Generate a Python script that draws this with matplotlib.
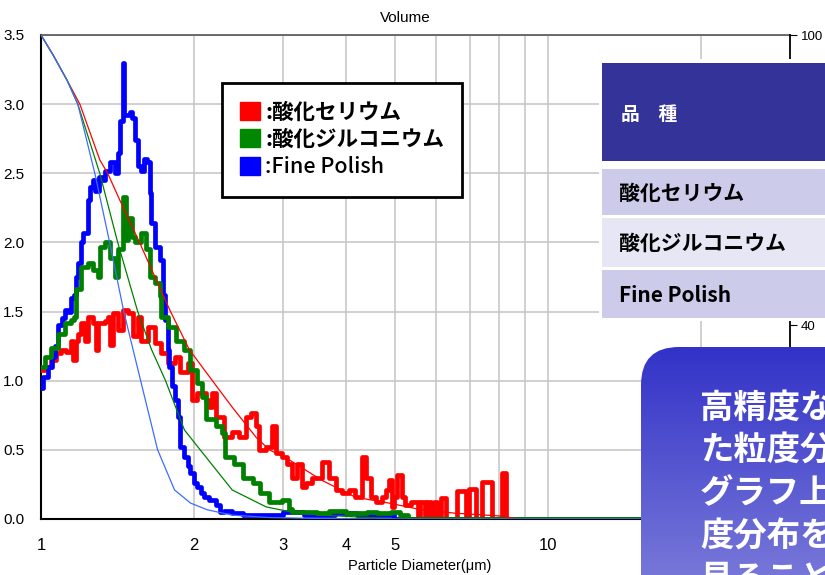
import numpy as np
import matplotlib
matplotlib.use("Agg")
import matplotlib.pyplot as plt
from matplotlib.patches import Patch, Rectangle, FancyBboxPatch

plt.rcParams['font.family'] = ['Liberation Sans', 'Noto Sans CJK JP', 'DejaVu Sans']

# histogram (volume %) - step edges in um and heights
red_x = [1.000, 1.018, 1.046, 1.070, 1.095, 1.120, 1.145, 1.156, 1.170, 1.182, 1.198, 1.220, 1.237,
         1.265, 1.282, 1.295, 1.336, 1.354, 1.366, 1.385, 1.417, 1.449, 1.482, 1.516, 1.551, 1.572,
         1.623, 1.675, 1.721, 1.777, 1.834, 1.884, 1.945, 1.988, 2.034, 2.118, 2.147, 2.177, 2.216,
         2.300, 2.383, 2.460, 2.538, 2.598, 2.655, 2.690, 2.780, 2.860, 2.910, 2.990, 3.060, 3.130,
         3.200, 3.270, 3.330, 3.420, 3.580, 3.700, 3.810, 3.920, 4.050, 4.170, 4.290, 4.380, 4.470,
         4.570, 4.700, 4.790, 4.850, 4.920, 4.970, 5.030, 5.140, 5.230, 5.370, 5.550, 5.600, 5.730,
         5.780, 5.880, 5.950, 6.050, 6.160, 6.300, 6.600, 6.900, 6.970, 7.200, 7.400, 7.750, 8.100,
         8.270, 30.0]
red_y = [1.08, 1.10, 1.15, 1.20, 1.22, 1.21, 1.29, 1.15, 1.29, 1.34, 1.42, 1.29, 1.46,
         1.42, 1.22, 1.42, 1.43, 1.46, 1.26, 1.49, 1.37, 1.51, 1.49, 1.32, 1.46, 1.29,
         1.39, 1.27, 1.20, 1.13, 1.17, 1.06, 1.13, 0.86, 0.91, 0.86, 0.81, 0.91, 0.74,
         0.59, 0.63, 0.59, 0.74, 0.77, 0.67, 0.50, 0.52, 0.67, 0.48, 0.45, 0.40, 0.30,
         0.40, 0.23, 0.26, 0.30, 0.41, 0.30, 0.21, 0.19, 0.21, 0.16, 0.45, 0.30, 0.16,
         0.12, 0.16, 0.21, 0.28, 0.09, 0.16, 0.32, 0.16, 0.10, 0.12, 0.00, 0.12, 0.00,
         0.12, 0.00, 0.12, 0.00, 0.15, 0.00, 0.20, 0.00, 0.22, 0.00, 0.27, 0.00, 0.33,
         0.00, 0.00]

green_x = [1.000, 1.018, 1.046, 1.080, 1.115, 1.145, 1.160, 1.172, 1.198, 1.237, 1.265, 1.295, 1.306,
           1.336, 1.366, 1.398, 1.417, 1.449, 1.469, 1.482, 1.510, 1.530, 1.572, 1.610, 1.638, 1.675,
           1.714, 1.721, 1.777, 1.850, 1.918, 1.971, 2.034, 2.080, 2.118, 2.216, 2.277, 2.310, 2.400,
           2.500, 2.620, 2.700, 2.820, 2.990, 3.090, 3.130, 3.500, 3.700, 4.000, 4.400, 4.600, 4.900,
           5.100, 5.300, 30.0]
green_y = [1.10, 1.17, 1.24, 1.34, 1.42, 1.44, 1.46, 1.66, 1.82, 1.85, 1.80, 1.75, 1.97,
           2.00, 1.89, 1.75, 1.95, 2.33, 2.02, 2.18, 2.04, 2.00, 2.07, 1.95, 1.75, 1.71,
           1.61, 1.46, 1.39, 1.29, 1.22, 1.08, 0.98, 0.88, 0.72, 0.67, 0.62, 0.45, 0.40,
           0.30, 0.26, 0.19, 0.12, 0.14, 0.07, 0.05, 0.04, 0.06, 0.04, 0.05, 0.04, 0.05,
           0.03, 0.00, 0.00]

blue_x = [1.000, 1.010, 1.030, 1.050, 1.065, 1.080, 1.100, 1.115, 1.130, 1.145, 1.160, 1.172, 1.185,
          1.198, 1.210, 1.237, 1.250, 1.265, 1.280, 1.300, 1.320, 1.336, 1.366, 1.398, 1.417, 1.430,
          1.449, 1.460, 1.500, 1.515, 1.530, 1.551, 1.575, 1.594, 1.615, 1.638, 1.650, 1.675, 1.714,
          1.738, 1.760, 1.777, 1.790, 1.809, 1.835, 1.859, 1.884, 1.918, 1.945, 1.971, 2.000, 2.034,
          2.070, 2.100, 2.147, 2.216, 2.250, 2.300, 2.383, 2.500, 3.000, 3.300, 3.800, 4.200, 4.960,
          30.0]
blue_y = [0.95, 1.03, 1.10, 1.17, 1.25, 1.40, 1.45, 1.51, 1.50, 1.60, 1.62, 1.75, 1.85,
          2.00, 2.07, 2.31, 2.40, 2.45, 2.37, 2.47, 2.45, 2.52, 2.58, 2.50, 2.65, 2.88,
          3.30, 2.92, 2.94, 2.90, 2.74, 2.55, 2.52, 2.60, 2.58, 2.36, 2.14, 1.97, 1.87,
          1.62, 1.44, 1.22, 1.10, 0.96, 0.86, 0.74, 0.52, 0.45, 0.38, 0.33, 0.26, 0.23,
          0.19, 0.16, 0.14, 0.10, 0.05, 0.06, 0.04, 0.03, 0.05, 0.03, 0.04, 0.03, 0.00,
          0.00]

# cumulative (%) - right axis
red_cum_x = [1.0, 1.056, 1.125, 1.193, 1.306, 1.354, 1.430, 1.565, 1.645, 1.800, 1.961, 2.177, 2.383,
             2.655, 2.820, 3.090, 3.580, 4.170, 4.850, 5.630, 6.560, 8.090, 8.720, 30.0]
red_cum_y = [100, 95.9, 90.7, 85.7, 74.2, 71.4, 65.9, 57.1, 52.0, 42.9, 35.0, 28.6, 23.1,
             16.9, 14.3, 12.2, 8.0, 4.5, 3.3, 1.9, 1.2, 0.6, 0, 0]
green_cum_x = [1.0, 1.056, 1.125, 1.182, 1.306, 1.417, 1.551, 1.652, 1.760, 1.918, 2.060, 2.383,
               2.780, 3.130, 3.580, 5.070, 30.0]
green_cum_y = [100, 95.9, 90.7, 85.7, 71.4, 57.1, 42.9, 35.0, 28.6, 18.4, 14.3, 6.0,
               2.5, 1.4, 0.8, 0, 0]
blue_cum_x = [1.0, 1.056, 1.125, 1.182, 1.277, 1.366, 1.456, 1.572, 1.698, 1.834, 1.971, 2.128,
              2.383, 2.820, 3.530, 5.070, 30.0]
blue_cum_y = [100, 95.9, 90.7, 85.7, 71.4, 57.1, 42.9, 28.6, 14.3, 6.0, 3.3, 1.9,
              0.8, 0.3, 0.1, 0, 0]

x_ticks = [1, 2, 3, 4, 5, 10]
x_minor = [6, 7, 8, 9, 20]
y_ticks = [0, 0.5, 1.0, 1.5, 2.0, 2.5, 3.0, 3.5]
y2_ticks = [0, 20, 40, 60, 80, 100]
y2_labels = ['', '', '40', '', '', '100']   # the others sit under the table / note box

legend_labels = [':酸化セリウム', ':酸化ジルコニウム', ':Fine Polish']
table_header = '品　種'
table_rows = ['酸化セリウム', '酸化ジルコニウム', 'Fine Polish']
note_lines = ['高精度な測', 'た粒度分布', 'グラフ上に', '度分布を比', '見ることが']

W, H = 825, 575
fig = plt.figure(figsize=(W / 100, H / 100), dpi=100)
ax = fig.add_axes([41 / W, 1 - 519 / H, (790 - 41) / W, (519 - 35) / H])
ax.set_xscale('log')
ax.set_xlim(1, 30)
ax.set_ylim(0, 3.5)

ax.plot(red_x, red_y, drawstyle='steps-post', color='#ff0000', lw=3.4, zorder=3,
        solid_joinstyle='round')
ax.plot(blue_x, blue_y, drawstyle='steps-post', color='#0000ff', lw=3.4, zorder=4,
        solid_joinstyle='round')
ax.plot(green_x, green_y, drawstyle='steps-post', color='#008000', lw=3.4, zorder=5,
        solid_joinstyle='round')

ax.set_xticks(x_ticks)
ax.set_xticklabels([str(t) for t in x_ticks])
ax.set_xticks(x_minor, minor=True)
ax.xaxis.set_minor_formatter(plt.NullFormatter())
ax.set_yticks(y_ticks)
ax.set_yticklabels(['%.1f' % t for t in y_ticks])
ax.tick_params(axis='x', which='both', length=0, pad=14, labelsize=12)
ax.tick_params(axis='y', length=0, pad=12, labelsize=11)
ax.grid(True, which='both', color='#c8c8c8', lw=1.2)
ax.set_axisbelow(True)
for s in ['left', 'bottom']:
    ax.spines[s].set_color('black')
    ax.spines[s].set_linewidth(1.5)
ax.spines['top'].set_color('#555555')
ax.spines['top'].set_linewidth(1.2)
ax.spines['right'].set_visible(False)

ax2 = ax.twinx()
ax2.set_ylim(0, 100)
ax2.plot(red_cum_x, red_cum_y, color='#ff0000', lw=0.9)
ax2.plot(green_cum_x, green_cum_y, color='#008000', lw=0.9)
ax2.plot(blue_cum_x, blue_cum_y, color='#3d6dff', lw=0.9)
ax2.set_yticks(y2_ticks)
ax2.set_yticklabels(y2_labels)
ax2.tick_params(axis='y', length=5, pad=3, labelsize=9.5, direction='out')
ax2.spines['right'].set_color('black')
ax2.spines['right'].set_linewidth(1.3)
for s in ['left', 'top', 'bottom']:
    ax2.spines[s].set_visible(False)

fig.text(405 / W, 1 - 18 / H, 'Volume', ha='center', va='center', fontsize=11)
fig.text(420 / W, 1 - 566 / H, 'Particle Diameter(μm)', ha='center', va='center', fontsize=10.5)

# legend
handles = [Patch(facecolor=c, edgecolor=c) for c in ['#ff0000', '#008800', '#0000ff']]
leg = fig.legend(handles, legend_labels, loc='upper left',
                 bbox_to_anchor=(222 / W, 1 - 83 / H), bbox_transform=fig.transFigure,
                 frameon=True, fancybox=False, edgecolor='black', framealpha=1,
                 handlelength=0.9, handleheight=0.9, handletextpad=0.25,
                 labelspacing=0.3, borderpad=0.85, borderaxespad=0,
                 prop={'family': ['Noto Sans CJK JP'], 'weight': 'bold', 'size': 15.5})
leg.get_frame().set_linewidth(2)
leg.get_texts()[2].set_fontweight('medium')
leg.set_zorder(20)

# overlay (table and note box) in pixel coordinates
ov = fig.add_axes([0, 0, 1, 1], zorder=30)
ov.set_xlim(0, W)
ov.set_ylim(H, 0)
ov.axis('off')

ov.add_patch(Rectangle((599, 59), 240, 262, facecolor='white', edgecolor='none'))
ov.add_patch(Rectangle((602, 63), 240, 98, facecolor='#333399', edgecolor='none'))
row_top = [169, 218, 270]
row_h = [46, 49, 48]
row_col = ['#ccccea', '#e6e6f5', '#ccccea']
for t, h, c, lab in zip(row_top, row_h, row_col, table_rows):
    ov.add_patch(Rectangle((602, t), 240, h, facecolor=c, edgecolor='none'))
    ov.text(619, t + h / 2 + 1, lab, ha='left', va='center', fontsize=15,
            fontweight='bold', family=['Noto Sans CJK JP'], color='black')
ov.text(621, 115, table_header, ha='left', va='center', fontsize=13.5,
        fontweight='bold', family=['Noto Sans CJK JP'], color='white')

# rounded gradient box
box = FancyBboxPatch((641, 347), 300, 300, boxstyle='round,pad=0,rounding_size=38',
                     facecolor='none', edgecolor='none')
ov.add_patch(box)
grad = np.linspace(0, 1, 256).reshape(-1, 1)
cmap = matplotlib.colors.LinearSegmentedColormap.from_list('bx', ['#3232c8', '#8484dc'])
im = ov.imshow(grad, extent=(641, 941, 620, 347), cmap=cmap, aspect='auto',
               origin='upper', interpolation='bilinear')
im.set_clip_path(box)
ov.set_xlim(0, W)
ov.set_ylim(H, 0)
line_y = [408, 451, 494, 537, 580]
for yy, txt in zip(line_y, note_lines):
    ov.text(700, yy, txt, ha='left', va='center', fontsize=24, fontweight='bold',
            family=['Noto Sans CJK JP'], color='white')

fig.savefig('out.png', dpi=100)
